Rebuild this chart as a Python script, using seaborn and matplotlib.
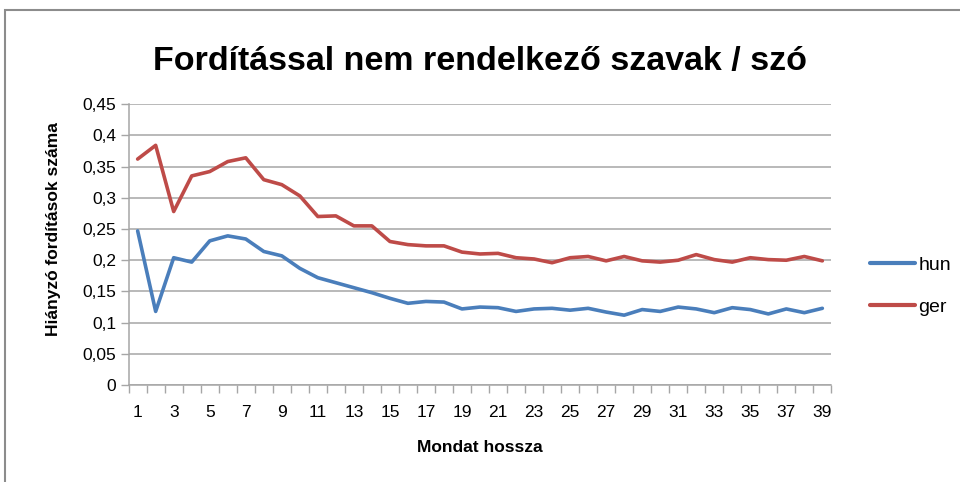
import numpy as np
import pandas as pd
import matplotlib
matplotlib.use("Agg")
import matplotlib.pyplot as plt
import matplotlib.ticker as mticker
from matplotlib.patches import Rectangle
import seaborn as sns

# mondathossz 1..39
hossz = list(range(1, 40))
hun = [0.247, 0.118, 0.204, 0.197, 0.231, 0.239, 0.234, 0.214, 0.207, 0.187,
       0.172, 0.164, 0.156, 0.148, 0.139, 0.131, 0.134, 0.133, 0.122, 0.125,
       0.124, 0.118, 0.122, 0.123, 0.120, 0.123, 0.117, 0.112, 0.121, 0.118,
       0.125, 0.122, 0.116, 0.124, 0.121, 0.114, 0.122, 0.116, 0.123]
ger = [0.362, 0.384, 0.278, 0.335, 0.342, 0.358, 0.364, 0.329, 0.321, 0.303,
       0.270, 0.271, 0.255, 0.255, 0.230, 0.225, 0.223, 0.223, 0.213, 0.210,
       0.211, 0.204, 0.202, 0.196, 0.204, 0.206, 0.199, 0.206, 0.199, 0.197,
       0.200, 0.209, 0.201, 0.197, 0.204, 0.201, 0.200, 0.206, 0.199]
sorozatok = ["hun", "ger"]
szinek = ["#4a7ebb", "#be4b48"]

df = pd.concat([
    pd.DataFrame({"hossz": hossz, "ertek": hun, "nyelv": "hun"}),
    pd.DataFrame({"hossz": hossz, "ertek": ger, "nyelv": "ger"}),
])

sns.set_style("white")
plt.rcParams['font.family'] = ['Liberation Sans', 'DejaVu Sans']
plt.rcParams['text.color'] = 'black'
plt.rcParams['xtick.color'] = 'black'
plt.rcParams['ytick.color'] = 'black'
plt.rcParams['axes.labelcolor'] = 'black'

fig = plt.figure(figsize=(9.6, 4.82), dpi=100)
ax = fig.add_axes([0.134, 0.201, 0.732, 0.583])

sns.lineplot(data=df, x="hossz", y="ertek", hue="nyelv", hue_order=sorozatok,
             palette=szinek, linewidth=2.6, ax=ax, legend=True)

ax.set_xlim(0.5, 39.5)
ax.set_ylim(0, 0.45)
ax.yaxis.set_major_locator(mticker.MultipleLocator(0.05))
ax.yaxis.set_major_formatter(mticker.FuncFormatter(lambda v, p: f"{v:.2f}".rstrip('0').rstrip('.').replace('.', ',')))
ax.grid(axis='y', color='#a6a6a6', linewidth=1.1)
ax.set_axisbelow(True)

ax.set_xticks(hossz[::2])
ax.set_xticks(np.arange(0.5, 40, 1), minor=True)
ax.tick_params(axis='x', which='major', length=0, pad=14, labelsize=12.5, colors='black')
ax.tick_params(axis='x', which='minor', length=6, width=1, color='#a6a6a6', direction='out')
ax.tick_params(axis='y', which='major', length=6, width=1, color='#a6a6a6', direction='out',
               labelsize=12.5, pad=3, labelcolor='black')
ax.xaxis.set_ticks_position('bottom')
ax.yaxis.set_ticks_position('left')

for s in ['top', 'right']:
    ax.spines[s].set_visible(False)
for s in ['left', 'bottom']:
    ax.spines[s].set_color('#a6a6a6')
    ax.spines[s].set_linewidth(1.1)

ax.set_xlabel("Mondat hossza", fontsize=12.5, fontweight='bold', labelpad=15)
ax.set_ylabel("Hiányzó fordítások száma", fontsize=12.5, fontweight='bold')
ax.yaxis.set_label_coords(-0.096, 0.555)

fig.suptitle("Fordítással nem rendelkező szavak / szó", fontsize=24.5, fontweight='bold',
             x=0.5, y=0.905, color='black')

leg = ax.legend(loc='center left', bbox_to_anchor=(1.03, 0.352), frameon=False,
                fontsize=14, handlelength=2.3, handletextpad=0.2, labelspacing=1.25)
for line in leg.get_lines():
    line.set_linewidth(3)
for t in leg.get_texts():
    t.set_color('black')

fig.patches.append(Rectangle((0.005, -0.05), 1.2, 1.03, transform=fig.transFigure,
                             fill=False, edgecolor='#8c8c8c', linewidth=1.5))

fig.savefig("out.png", dpi=100)
